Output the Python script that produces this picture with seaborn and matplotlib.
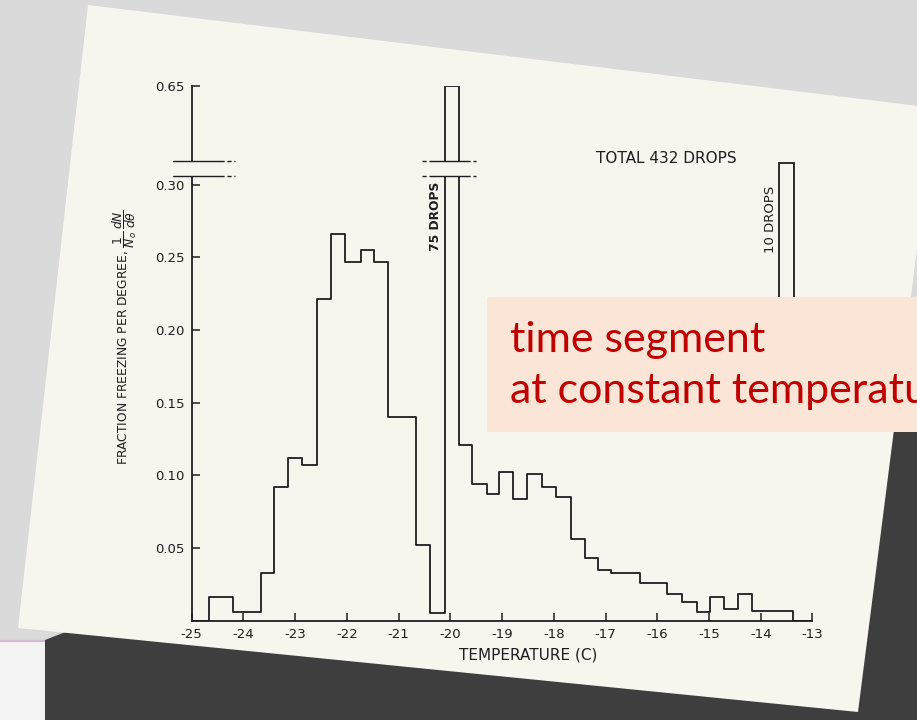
import numpy as np
import pandas as pd
import matplotlib
matplotlib.use("Agg")
import matplotlib.pyplot as plt
import matplotlib.transforms as mtransforms
from matplotlib.patches import Polygon, Rectangle
import seaborn as sns

# ---------------- data ----------------
bin_edges = [-25.00, -24.67, -24.20, -23.65, -23.41, -23.14, -22.86, -22.58, -22.31, -22.03,
             -21.73, -21.48, -21.21, -20.66, -20.40, -20.11, -19.84, -19.59, -19.30, -19.05,
             -18.78, -18.52, -18.23, -17.96, -17.67, -17.39, -17.15, -16.89, -16.34, -15.81,
             -15.53, -15.24, -14.98, -14.71, -14.43, -14.17, -13.38, -13.00]
fraction_per_degree = [0.0, 0.016, 0.006, 0.0325, 0.092, 0.112, 0.107, 0.221, 0.266, 0.247,
                       0.255, 0.247, 0.140, 0.052, 0.005, 0.65, 0.121, 0.094, 0.087, 0.102,
                       0.084, 0.101, 0.092, 0.085, 0.0565, 0.043, 0.035, 0.033, 0.026, 0.018,
                       0.013, 0.006, 0.016, 0.008, 0.018, 0.0065, 0.0]
hold_left = [-13.64]
hold_right = [-13.36]
hold_bottom = [0.16]
hold_top = [0.34]
x_ticks = [-25, -24, -23, -22, -21, -20, -19, -18, -17, -16, -15, -14, -13]
y_ticks = [0.05, 0.10, 0.15, 0.20, 0.25, 0.30, 0.65]
y_tick_labels = ["0.05", "0.10", "0.15", "0.20", "0.25", "0.30", "0.65"]
total_label = "TOTAL 432 DROPS"
tall_label = "75 DROPS"
hold_label = "10 DROPS"
callout_lines = ["time segment", "at constant temperature"]

# ---------------- style ----------------
sns.set_style("ticks")
plt.rcParams["font.family"] = ["DejaVu Sans"]
PAPER = "#f6f5ee"
INK = "#1e1e1e"

W, H = 917, 720
fig = plt.figure(figsize=(W / 100, H / 100), dpi=100)
fig.patch.set_facecolor("#dadada")


def px(pts):
    return [(x / W, 1 - y / H) for x, y in pts]


# background: shadow, light corner, rotated paper sheet
fig.patches.append(Polygon(px([(45, 640), (917, 300), (917, 720), (45, 720)]), closed=True,
                           transform=fig.transFigure, facecolor="#3e3e3e", edgecolor="none", zorder=-3))
fig.patches.append(Rectangle((0, 0), 45 / W, 80 / H, transform=fig.transFigure,
                             facecolor="#f3f3f3", edgecolor="none", zorder=-3))
fig.patches.append(Polygon(px([(0, 641), (45, 641)]), closed=False, transform=fig.transFigure,
                           fill=False, edgecolor="#d7b8d9", linewidth=1.5, zorder=-2))
fig.patches.append(Polygon(px([(88, 5), (935, 108), (858, 712), (18, 628)]), closed=True,
                           transform=fig.transFigure, facecolor=PAPER, edgecolor="none", zorder=-1))

ax = fig.add_axes([0.209, 0.138, 0.677, 0.743])
ax.set_facecolor("none")

# broken y scale: values above BREAK are compressed
BREAK = 0.31
K = (0.368 - BREAK) / (0.65 - BREAK)


def fwd(v):
    v = np.asarray(v, dtype=float)
    return np.where(v <= BREAK, v, BREAK + (v - BREAK) * K)


def inv(d):
    d = np.asarray(d, dtype=float)
    return np.where(d <= BREAK, d, BREAK + (d - BREAK) / K)


edges = np.array(bin_edges)
hist_df = pd.DataFrame({
    "temperature": (edges[:-1] + edges[1:]) / 2,
    "fraction": fraction_per_degree,
})
sns.histplot(data=hist_df, x="temperature", weights="fraction", bins=list(bin_edges),
             element="step", fill=False, color=INK, linewidth=1.3, ax=ax)

# floating bar: drops frozen while held at constant temperature
ax.bar(x=hold_left[0], height=hold_top[0] - hold_bottom[0], bottom=hold_bottom[0],
       width=hold_right[0] - hold_left[0], align="edge", fill=False, edgecolor=INK, linewidth=1.3)

ax.set_yscale("function", functions=(fwd, inv))
ax.set_xlim(-25, -13)
ax.set_ylim(0, 0.65)
ax.set_xticks(x_ticks)
ax.set_xticklabels([str(t) for t in x_ticks])
ax.set_yticks(y_ticks)
ax.set_yticklabels(y_tick_labels)
ax.minorticks_off()
ax.tick_params(direction="in", length=6, width=1.1, colors=INK, labelsize=9.5, pad=5)
for s in ["top", "right"]:
    ax.spines[s].set_visible(False)
for s in ["left", "bottom"]:
    ax.spines[s].set_color(INK)
    ax.spines[s].set_linewidth(1.3)

ax.set_xlabel("TEMPERATURE (C)", fontsize=11, color=INK)
ax.xaxis.set_label_coords(0.542, -0.05)
ax.set_ylabel(r"FRACTION FREEZING PER DEGREE, $\dfrac{1}{N_o}\,\dfrac{dN}{d\theta}$",
              fontsize=8.8, color=INK)
ax.yaxis.set_label_coords(-0.085, 0.53)

# axis break marks (y axis and tall bar)
top_d = float(fwd(0.65))
y1, y2 = 0.306 / top_d, 0.316 / top_d
ax.add_patch(Rectangle((-0.006, y1), 0.012, y2 - y1, transform=ax.transAxes, facecolor=PAPER,
                       edgecolor="none", clip_on=False, zorder=3))
for yy in (y1, y2):
    ax.plot([-0.03, 0.045], [yy, yy], transform=ax.transAxes, color=INK, lw=1.0, clip_on=False, zorder=4)
    ax.plot([0.045, 0.07], [yy, yy], transform=ax.transAxes, color=INK, lw=1.0, ls=(0, (3, 2)),
            clip_on=False, zorder=4)

blend = mtransforms.blended_transform_factory(ax.transData, ax.transAxes)
ax.add_patch(Rectangle((-20.14, y1), 0.33, y2 - y1, transform=blend, facecolor=PAPER,
                       edgecolor="none", clip_on=False, zorder=3))
for yy in (y1, y2):
    ax.plot([-20.40, -19.70], [yy, yy], transform=blend, color=INK, lw=1.0, clip_on=False, zorder=4)
    ax.plot([-19.70, -19.50], [yy, yy], transform=blend, color=INK, lw=1.0, ls=(0, (3, 2)),
            clip_on=False, zorder=4)
    ax.plot([-20.55, -20.40], [yy, yy], transform=blend, color=INK, lw=1.0, ls=(0, (3, 2)),
            clip_on=False, zorder=4)

# annotations
ax.text(-20.17, 0.278, tall_label, rotation=90, ha="right", va="center", fontsize=8.8,
        color=INK, fontweight="bold")
ax.text(-13.69, 0.276, hold_label, rotation=90, ha="right", va="center", fontsize=9.5, color=INK)
ax.text(-15.83, 0.318 / top_d, total_label, transform=blend, ha="center", va="center",
        fontsize=11, color=INK)

# callout box on top
fig.patches.append(Rectangle((487 / W, 1 - 432 / H), (W - 487) / W, 135 / H,
                             transform=fig.transFigure, facecolor="#fbe5d6", edgecolor="none", zorder=10))
fig.text(510 / W, 1 - 352 / H, callout_lines[0], fontsize=31, color="#c00000",
         family=["Lato", "DejaVu Sans"], va="baseline", zorder=11)
fig.text(510 / W, 1 - 403 / H, callout_lines[1], fontsize=31, color="#c00000",
         family=["Lato", "DejaVu Sans"], va="baseline", zorder=11)

fig.savefig("out.png", dpi=100, facecolor=fig.get_facecolor())
